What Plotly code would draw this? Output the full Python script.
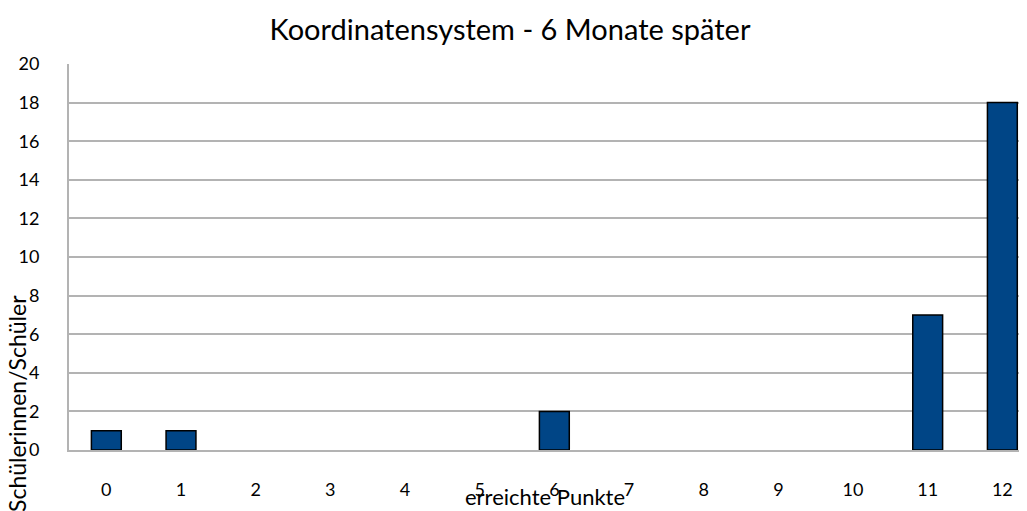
import plotly.graph_objects as go

categories = ["0", "1", "2", "3", "4", "5", "6", "7", "8", "9", "10", "11", "12"]
values = [1, 1, 0, 0, 0, 0, 2, 0, 0, 0, 0, 7, 18]
y_ticks = [0, 2, 4, 6, 8, 10, 12, 14, 16, 18, 20]

FONT = "Lato"

# page has an 8px body margin; figure occupies page px 8..1027 / 8..511
W, H = 1019, 503
OFF = 8
L, T, B = 69 - OFF, 64 - OFF, 450 - OFF
plot_w = W - L
plot_h = B - T

fig = go.Figure()
fig.add_trace(go.Bar(
    x=list(range(len(categories))),
    y=values,
    width=0.4,
    marker=dict(color="#004586",
                line=dict(color="#000000", width=[1.5 if v > 0 else 0 for v in values])),
))

fig.update_layout(
    width=W, height=H,
    margin=dict(l=L, r=0, t=T, b=H - B, autoexpand=False),
    paper_bgcolor="white", plot_bgcolor="white",
    showlegend=False,
    font=dict(family=FONT, color="#000000", size=18),
    title=dict(text="Koordinatensystem - 6 Monate später", x=(510 - OFF) / W, xanchor="center",
               y=1 - (30 - OFF) / H, yanchor="middle", font=dict(size=29, family=FONT)),
)
fig.update_xaxes(
    tickmode="array", tickvals=list(range(len(categories))), ticktext=categories,
    range=[-0.5, 12.33], showgrid=False, zeroline=False, automargin=False,
    showline=True, linecolor="#B3B3B3", linewidth=2,
    ticks="", ticklabelstandoff=22, tickfont=dict(size=18),
)
fig.update_yaxes(
    range=[0, 20], tickmode="array", tickvals=y_ticks, automargin=False,
    showgrid=True, gridcolor="#B3B3B3", gridwidth=1.5,
    zeroline=False, showline=True, linecolor="#B3B3B3", linewidth=2,
    ticks="", ticklabelstandoff=24, tickfont=dict(size=18),
)
fig.add_annotation(text="erreichte Punkte", xref="paper", yref="paper",
                   x=(545 - 69) / plot_w, y=-(496 - 450) / plot_h,
                   showarrow=False, font=dict(size=22, family=FONT),
                   xanchor="center", yanchor="middle")
fig.add_annotation(text="Schülerinnen/Schüler", xref="paper", yref="paper",
                   x=-(69 - 17) / plot_w, y=-(404 - 450) / plot_h,
                   textangle=-90, showarrow=False, font=dict(size=23, family=FONT),
                   xanchor="center", yanchor="middle")

fig.write_html("out.html")
